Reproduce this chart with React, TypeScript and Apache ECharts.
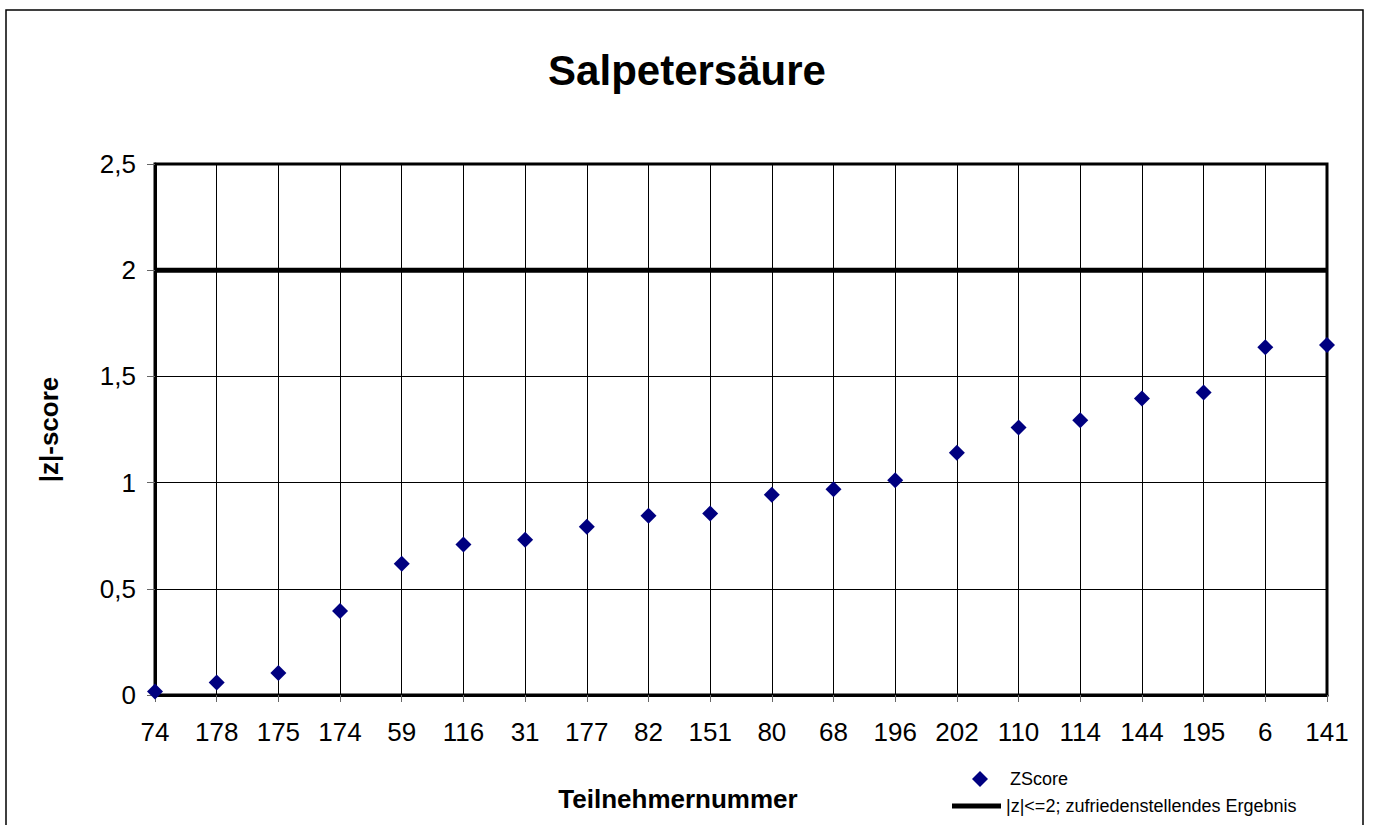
import React, { useEffect, useRef } from "react";
import * as echarts from "echarts";

const categories = ["74", "178", "175", "174", "59", "116", "31", "177", "82", "151", "80", "68", "196", "202", "110", "114", "144", "195", "6", "141"];
const zScores = [0.017, 0.059, 0.103, 0.395, 0.618, 0.709, 0.731, 0.792, 0.844, 0.854, 0.943, 0.969, 1.011, 1.14, 1.259, 1.293, 1.396, 1.424, 1.637, 1.648];
const limitValue = 2;
const limitLine = categories.map(() => limitValue);
const seriesNames = ["ZScore", "|z|<=2; zufriedenstellendes Ergebnis"];

const FONT = "'Liberation Sans', Arial, sans-serif";

export default function App() {
  const ref = useRef<HTMLDivElement>(null);
  useEffect(() => {
    if (!ref.current) return;
    const chart = echarts.init(ref.current, undefined, { renderer: "svg" });
    chart.setOption({
      animation: false,
      backgroundColor: "#fff",
      textStyle: { fontFamily: FONT, color: "#000" },
      title: {
        text: "Salpetersäure",
        left: "center",
        top: 44,
        textStyle: { fontFamily: FONT, fontSize: 42, fontWeight: "bold", color: "#000" },
      },
      graphic: [
        {
          type: "rect",
          shape: { x: 6, y: 10, width: 1357, height: 900 },
          style: { fill: "none", stroke: "#000", lineWidth: 1.5 },
          silent: true,
        },
      ],
      legend: [
        {
          data: [{ name: seriesNames[0], icon: "diamond" }],
          left: 967,
          top: 765,
          itemWidth: 16,
          itemHeight: 16,
          itemStyle: { opacity: 1 },
          textStyle: { fontFamily: FONT, fontSize: 18, color: "#000", padding: [0, 0, 0, 17] },
          selectedMode: false,
        },
        {
          data: [{ name: seriesNames[1], icon: "rect" }],
          left: 947,
          top: 792,
          itemWidth: 49,
          itemHeight: 5,
          itemStyle: { color: "#000" },
          textStyle: { fontFamily: FONT, fontSize: 18, color: "#000" },
          selectedMode: false,
        },
      ],
      grid: {
        left: 155,
        right: 47,
        top: 164,
        bottom: 130,
        show: true,
        borderColor: "#000",
        borderWidth: 3,
      },
      xAxis: {
        type: "category",
        data: categories,
        boundaryGap: false,
        name: "Teilnehmernummer",
        nameLocation: "middle",
        nameGap: 91,
        nameTextStyle: { fontFamily: FONT, fontSize: 26, fontWeight: "bold", color: "#000", padding: [0, 126, 0, 0] },
        axisLine: { lineStyle: { color: "#000", width: 3 } },
        axisTick: { show: true, length: 7, lineStyle: { color: "#666", width: 1 } },
        axisLabel: { fontFamily: FONT, fontSize: 26, color: "#000", margin: 24, interval: 0 },
        splitLine: { show: true, lineStyle: { color: "#000", width: 1 } },
      },
      yAxis: {
        type: "value",
        min: 0,
        max: 2.5,
        interval: 0.5,
        name: "|z|-score",
        nameLocation: "middle",
        nameGap: 93,
        nameRotate: 90,
        nameTextStyle: { fontFamily: FONT, fontSize: 26, fontWeight: "bold", color: "#000" },
        axisLine: { show: true, lineStyle: { color: "#000", width: 3 } },
        axisTick: { show: true, length: 8, lineStyle: { color: "#666", width: 1 } },
        axisLabel: {
          fontFamily: FONT,
          fontSize: 26,
          color: "#000",
          margin: 19,
          formatter: (v: number) => String(v).replace(".", ","),
        },
        splitLine: { show: true, lineStyle: { color: "#000", width: 1 } },
      },
      series: [
        {
          name: seriesNames[1],
          type: "line",
          data: limitLine,
          symbol: "none",
          lineStyle: { color: "#000", width: 5 },
          itemStyle: { color: "#000" },
          z: 2,
        },
        {
          name: seriesNames[0],
          type: "scatter",
          data: zScores,
          symbol: "diamond",
          symbolSize: 16,
          itemStyle: { color: "#000080", opacity: 1 },
          clip: false,
          z: 3,
        },
      ],
    });
    return () => chart.dispose();
  }, []);
  return (
    <div
      ref={ref}
      style={{ position: "fixed", left: 0, top: 0, width: 1374, height: 825 }}
    />
  );
}
